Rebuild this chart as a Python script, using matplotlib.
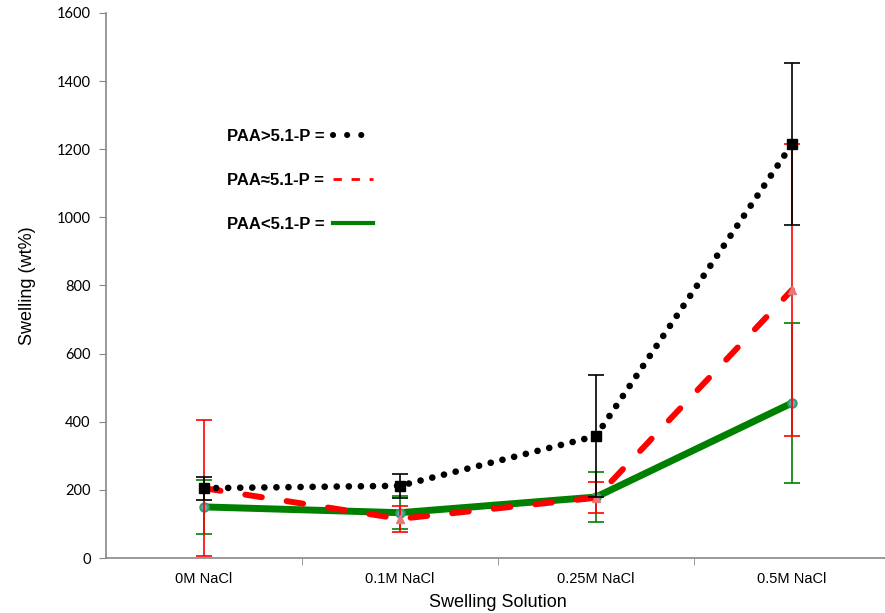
import matplotlib
matplotlib.use("Agg")
import matplotlib.pyplot as plt
from matplotlib.lines import Line2D

# categories and values
solutions = ["0M NaCl", "0.1M NaCl", "0.25M NaCl", "0.5M NaCl"]

paa_high = [205, 212, 358, 1215]
paa_high_err = [34, 35, 180, 238]

paa_mid = [205, 115, 177, 787]
paa_mid_err = [200, 39, 45, 428]

paa_low = [150, 133, 179, 455]
paa_low_err = [80, 49, 73, 235]

labels = ["PAA>5.1-P =", "PAA\u22485.1-P =", "PAA<5.1-P ="]

plt.rcParams["font.family"] = ["Liberation Sans", "DejaVu Sans"]

fig = plt.figure(figsize=(8.85, 6.13), dpi=100)
ax = fig.add_axes([106 / 885, 55 / 613, 784 / 885, 545 / 613])

x = list(range(len(solutions)))
green = "#008000"

# green series (bottom)
ax.errorbar(x, paa_low, yerr=paa_low_err, fmt="none", ecolor=green,
            elinewidth=1.2, capsize=6, capthick=1.2, zorder=2)
ax.plot(x, paa_low, color=green, lw=5, solid_capstyle="round", zorder=2.5,
        marker="o", ms=6, mfc="#6aa6c8", mec="#3a9a6a", mew=1.5)

# red series
ax.errorbar(x, paa_mid, yerr=paa_mid_err, fmt="none", ecolor="red",
            elinewidth=1.2, capsize=6, capthick=1.2, zorder=3)
ax.plot(x, paa_mid, color="red", lw=4.3, dashes=(2.8, 4.2),
        dash_capstyle="round", zorder=3.5,
        marker="^", ms=6, mfc="#e87878", mec="#e87878", mew=1)

# black series (top)
ax.errorbar(x, paa_high, yerr=paa_high_err, fmt="none", ecolor="black",
            elinewidth=1.2, capsize=6, capthick=1.2, zorder=4)
ax.plot(x, paa_high, color="black", lw=4.8, dashes=(0.01, 1.8),
        dash_capstyle="round", zorder=4.5,
        marker="s", ms=6.5, mfc="black", mec="black")

ax.set_xlim(-0.5, 3.5)
ax.set_ylim(0, 1600)
ax.set_yticks(range(0, 1601, 200))
ax.tick_params(axis="y", labelsize=10.5, length=5, color="#888888",
               labelcolor="black", pad=6)
for t in ax.get_yticklabels():
    t.set_fontfamily(["Lato", "DejaVu Sans"])

ax.set_xticks(x)
ax.set_xticklabels(solutions, fontsize=10.5)
ax.set_xticks([0.5, 1.5, 2.5], minor=True)
ax.tick_params(axis="x", which="major", length=0, pad=10)
ax.tick_params(axis="x", which="minor", length=5, color="#888888")

for s in ["top", "right"]:
    ax.spines[s].set_visible(False)
for s in ["left", "bottom"]:
    ax.spines[s].set_color("#888888")
    ax.spines[s].set_linewidth(1.2)

ax.set_xlabel("Swelling Solution", fontsize=13, labelpad=6)
ax.set_ylabel("Swelling (wt%)", fontsize=13, labelpad=15)

handles = [
    Line2D([], [], color="black", lw=4.4, dashes=(0.01, 2.3), dash_capstyle="round"),
    Line2D([], [], color="red", lw=2, dashes=(3, 3.5)),
    Line2D([], [], color=green, lw=3),
]
leg = ax.legend(handles, labels, loc="upper left", bbox_to_anchor=(0.135, 0.815),
                frameon=False, markerfirst=False, handlelength=2.4,
                handletextpad=0.5, labelspacing=1.75,
                prop={"weight": "bold", "size": 12})

fig.savefig("out.png", dpi=100)
